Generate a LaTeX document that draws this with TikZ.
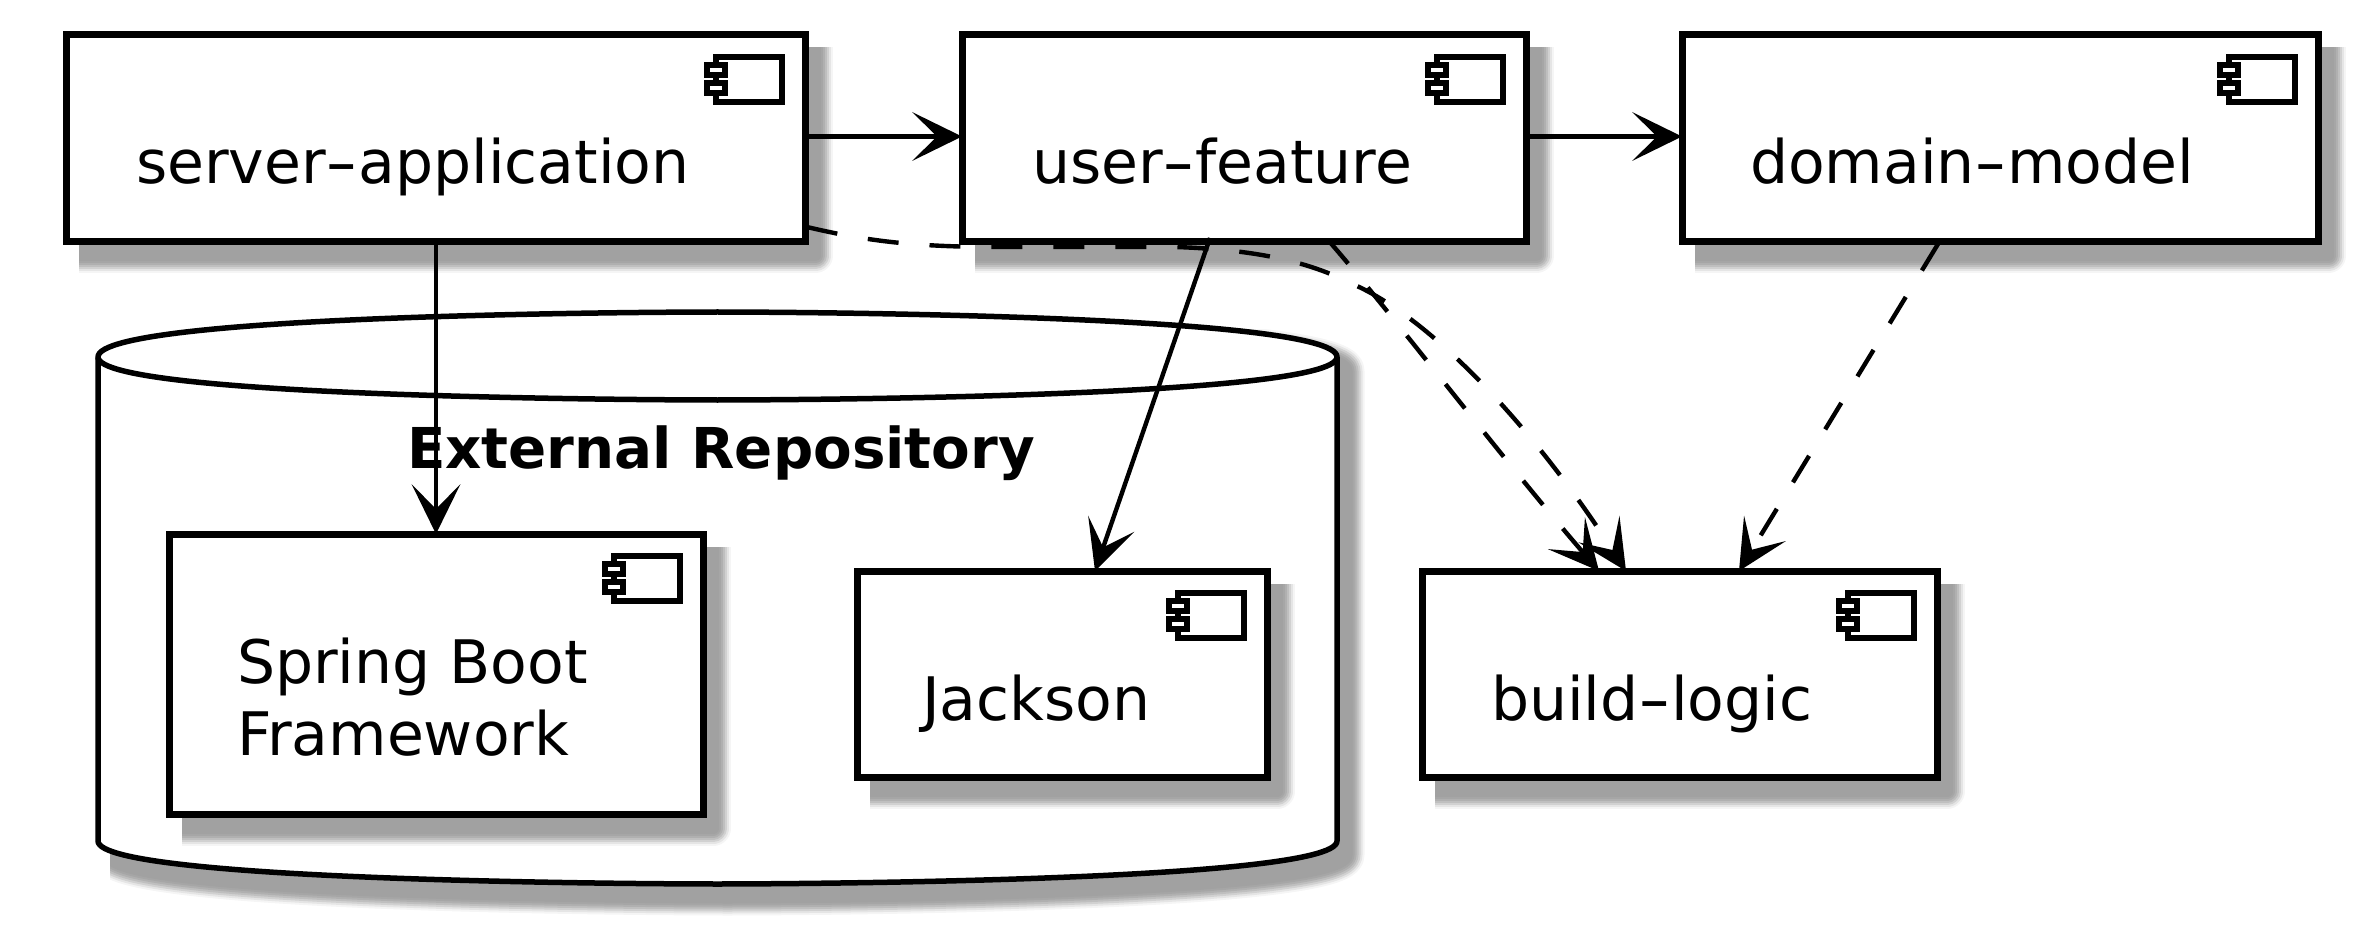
\documentclass[tikz,border=0pt]{standalone}
\usepackage{fontspec}
\setmainfont{DejaVu Sans}
\usetikzlibrary{arrows.meta,calc}
\tikzset{
  boxnode/.style={draw=black,fill=white,line width=7pt,rectangle,inner sep=0pt,outer sep=0pt},
  iconpart/.style={draw=black,fill=white,line width=6pt},
  repoline/.style={draw=black,line width=5.5pt,line join=round},
  boxlabel/.style={inner sep=0pt,outer sep=0pt,anchor=base west,font=\fontsize{60}{72}\selectfont,align=left},
  repolabel/.style={inner sep=0pt,outer sep=0pt,anchor=base west,font=\fontsize{56.3}{70}\selectfont\bfseries},
  conn/.style={draw=black,line width=4.4pt,-{Stealth[length=50pt,width=49pt,inset=25pt,line width=0pt]}},
  dep/.style={conn,dash pattern=on 31pt off 31pt},
}
\newcommand{\widehyphen}{\scalebox{1.5}[1]{-}}
\newcommand{\softshadow}[3]{%
  \begin{scope}
    \clip (#1,#2) rectangle (5000,5000);
    \begin{scope}[shift={(10,14)}]
      \foreach \w/\p in {35/4,31/10,27/18,23/25,19/31,15/35,11/37,7/37}{
        \draw[line width=\w pt,draw=black!\p,fill=black!\p,line join=round] #3;
      }
    \end{scope}
  \end{scope}}
\newcommand{\boxshadow}[4]{\softshadow{#1+13}{#2+13}{(#1,#2) rectangle (#3,#4)}}
\newcommand{\compicon}[1]{%
  \begin{scope}[shift={(#1.north east)}]
    \draw[iconpart] (-89,22) rectangle (-23,67);
    \draw[iconpart] (-98,30) rectangle (-80,40);
    \draw[iconpart] (-98,48) rectangle (-80,58);
  \end{scope}}
\begin{document}
\begin{tikzpicture}[x=1pt,y=-1pt]
\useasboundingbox (0,0) rectangle (2362,933);
% repository shadow and body
\softshadow{110}{330}{(98,357) .. controls (98,312) and (717.5,312) .. (717.5,312) .. controls (717.5,312) and (1337,312) .. (1337,357) -- (1337,841) .. controls (1337,884) and (717.5,884) .. (717.5,884) .. controls (717.5,884) and (98,884) .. (98,841) -- cycle}
\draw[repoline,fill=white] (98,357) .. controls (98,312) and (717.5,312) .. (717.5,312) .. controls (717.5,312) and (1337,312) .. (1337,357) -- (1337,841) .. controls (1337,884) and (717.5,884) .. (717.5,884) .. controls (717.5,884) and (98,884) .. (98,841) -- cycle;
\draw[repoline] (98,357) .. controls (98,400) and (717.5,400) .. (717.5,400) .. controls (717.5,400) and (1337,400) .. (1337,357);
% shadows
\boxshadow{66}{35}{805}{242}
\boxshadow{962}{35}{1526}{242}
\boxshadow{1682}{35}{2318}{242}
\boxshadow{169}{534}{703}{814}
\boxshadow{857}{571}{1267}{777}
\boxshadow{1422}{571}{1937}{777}
% boxes
\node[boxnode,minimum width=739pt,minimum height=207pt] (server) at (435.5,138.5) {};
\node[boxnode,minimum width=564pt,minimum height=207pt] (user) at (1244,138.5) {};
\node[boxnode,minimum width=636pt,minimum height=207pt] (domain) at (2000,138.5) {};
\node[boxnode,minimum width=534pt,minimum height=280pt] (spring) at (436,674) {};
\node[boxnode,minimum width=410pt,minimum height=206pt] (jackson) at (1062,674) {};
\node[boxnode,minimum width=515pt,minimum height=206pt] (build) at (1679.5,674) {};
\compicon{server}\compicon{user}\compicon{domain}\compicon{spring}\compicon{jackson}\compicon{build}
% labels
\node[boxlabel] (serverlabel) at (136,184) {server\widehyphen application};
\node[boxlabel] (userlabel) at (1032,184) {user\widehyphen feature};
\node[boxlabel] (domainlabel) at (1750,184) {domain\widehyphen model};
\node[boxlabel] (springlabel) at (237,755) {Spring Boot\\Framework};
\node[boxlabel] (jacksonlabel) at (922,720) {Jackson};
\node[boxlabel] (buildlabel) at (1491,720) {build\widehyphen logic};
\node[repolabel] (repolabel) at (407,468) {External Repository};
% connectors
\draw[conn] ([yshift=-101.5pt]server.north east) -- ([yshift=-101.5pt]user.north west);
\draw[conn] ([yshift=-101.5pt]user.north east) -- ([yshift=-101.5pt]domain.north west);
\draw[conn] ([xshift=370pt,yshift=3pt]server.south west) -- ([xshift=267pt]spring.north west);
\draw[conn] ([xshift=248pt,yshift=4pt]user.south west) -- ([xshift=238pt]jackson.north west);
\draw[dep] ([xshift=2pt,yshift=15pt]server.south east) .. controls (870,242) and (920,247) .. (1000,247) -- (1176,247) .. controls (1260,250) and (1310,262) .. (1357,286) .. controls (1435,322) and (1535,430) .. ([xshift=204pt]build.north west);
\draw[dep] ([xshift=366pt,yshift=2pt]user.south west) .. controls (1385,305) and (1500,456) .. ([xshift=177pt]build.north west);
\draw[dep] ([xshift=256pt,yshift=-2pt]domain.south west) -- ([xshift=317pt]build.north west);
\end{tikzpicture}
\end{document}
